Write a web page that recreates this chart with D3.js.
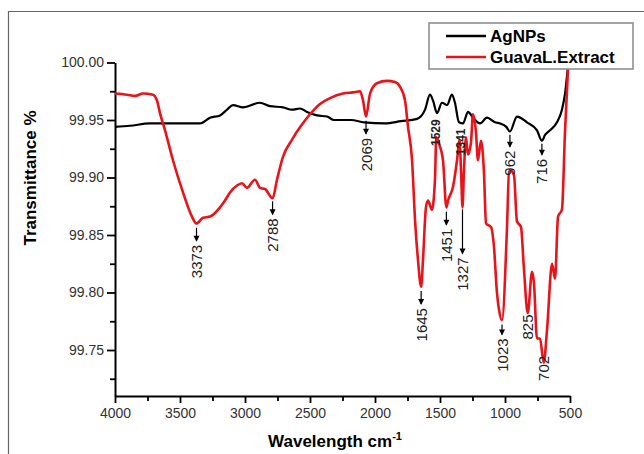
<!DOCTYPE html>
<html>
<head>
<meta charset="utf-8">
<script src="https://cdn.jsdelivr.net/npm/d3@7"></script>
<style>
  body { margin: 0; background: #fff; }
  text { font-family: "Liberation Sans", Arial, sans-serif; }
</style>
</head>
<body>
<div id="chart"></div>
<script>
// AgNPs spectrum (wavenumber, transmittance)
const agWn = [4000, 3885, 3731, 3538, 3346, 3269, 3192, 3138, 3092, 3015, 2885, 2808, 2708, 2638, 2577, 2523, 2446, 2369, 2315, 2185, 2085, 1923, 1800, 1677, 1615, 1577, 1554, 1523, 1485, 1446, 1408, 1385, 1354, 1323, 1285, 1246, 1192, 1138, 1077, 1038, 990, 962, 908, 831, 754, 716, 692, 654, 600, 562, 538, 515, 500];
const agT  = [99.944, 99.945, 99.947, 99.947, 99.947, 99.952, 99.954, 99.959, 99.963, 99.961, 99.965, 99.962, 99.961, 99.959, 99.960, 99.957, 99.954, 99.953, 99.950, 99.950, 99.948, 99.947, 99.949, 99.951, 99.959, 99.972, 99.967, 99.956, 99.965, 99.963, 99.972, 99.965, 99.948, 99.947, 99.957, 99.952, 99.947, 99.952, 99.948, 99.947, 99.944, 99.940, 99.953, 99.948, 99.941, 99.932, 99.937, 99.941, 99.948, 99.959, 99.973, 99.996, 100.004];

// Guava leaf extract spectrum
const guWn = [4000, 3908, 3846, 3785, 3708, 3677, 3654, 3615, 3554, 3477, 3408, 3373, 3323, 3269, 3192, 3154, 3115, 3062, 3023, 2985, 2923, 2885, 2846, 2788, 2754, 2708, 2638, 2562, 2500, 2423, 2346, 2246, 2169, 2115, 2092, 2069, 2038, 1985, 1908, 1846, 1808, 1769, 1746, 1715, 1692, 1669, 1645, 1631, 1608, 1592, 1562, 1538, 1529, 1510, 1477, 1451, 1438, 1400, 1369, 1350, 1338, 1327, 1316, 1300, 1285, 1262, 1246, 1223, 1208, 1185, 1162, 1146, 1108, 1085, 1062, 1046, 1023, 985, 969, 954, 931, 908, 877, 854, 825, 792, 777, 754, 731, 702, 677, 638, 615, 592, 562, 538, 515, 500];
const guT  = [99.973, 99.972, 99.971, 99.973, 99.972, 99.967, 99.956, 99.941, 99.915, 99.887, 99.866, 99.860, 99.865, 99.866, 99.874, 99.880, 99.887, 99.893, 99.895, 99.891, 99.898, 99.891, 99.890, 99.882, 99.898, 99.918, 99.933, 99.946, 99.955, 99.964, 99.969, 99.973, 99.974, 99.975, 99.967, 99.953, 99.973, 99.982, 99.984, 99.983, 99.979, 99.967, 99.944, 99.915, 99.863, 99.828, 99.805, 99.828, 99.874, 99.880, 99.872, 99.900, 99.935, 99.930, 99.915, 99.874, 99.880, 99.892, 99.915, 99.933, 99.905, 99.874, 99.905, 99.935, 99.920, 99.930, 99.955, 99.939, 99.915, 99.932, 99.905, 99.860, 99.857, 99.840, 99.800, 99.785, 99.776, 99.855, 99.905, 99.906, 99.902, 99.862, 99.857, 99.820, 99.782, 99.818, 99.808, 99.760, 99.760, 99.739, 99.767, 99.825, 99.812, 99.866, 99.872, 99.941, 99.995, 100.02];

// peak annotations with arrows (arrow starts at the curve)
const arrowWn  = [3373, 2788, 2069, 1645, 1451, 1327, 1023, 962, 716];
const arrowT   = [99.858, 99.881, 99.951, 99.803, 99.872, 99.874, 99.774, 99.939, 99.931];
const arrowLen = [13, 13, 13, 13, 13, 44, 10, 12, 11];
// plain labels (no arrow), centre of text
const plainWn = [1529, 1341, 825, 702];
const plainT  = [99.939, 99.931, 99.770, 99.734];

const xTicks = [4000, 3500, 3000, 2500, 2000, 1500, 1000, 500];
const xMinor = [3750, 3250, 2750, 2250, 1750, 1250, 750];
const yTicks = [99.75, 99.80, 99.85, 99.90, 99.95, 100.00];
const yMinor = [99.725, 99.775, 99.825, 99.875, 99.925, 99.975];

const seriesNames = ["AgNPs", "GuavaL.Extract"];
const seriesColors = ["#000000", "#e8141b"];

const W = 644, H = 454;
const svg = d3.select("#chart").append("svg")
  .attr("width", W).attr("height", H);

// outer frame
svg.append("path")
  .attr("d", "M8.5,454 L8.5,11.5 L644,11.5")
  .attr("fill", "none").attr("stroke", "#666").attr("stroke-width", 1.2);

const x = d3.scaleLinear().domain([4000, 500]).range([115, 570]);
const y = d3.scaleLinear().domain([99.71, 100.0]).range([396, 62.5]);

// axes
const fmtY = d3.format(".2f");
svg.append("g").attr("transform", "translate(0,396)")
  .call(d3.axisBottom(x).tickValues(xTicks).tickSize(7).tickSizeOuter(0).tickPadding(5).tickFormat(d3.format("d")));
svg.append("g").attr("transform", "translate(0,396)")
  .call(d3.axisBottom(x).tickValues(xMinor).tickSize(5).tickFormat(""))
  .call(g => g.select(".domain").remove());
svg.append("g").attr("transform", "translate(115,0)")
  .call(d3.axisLeft(y).tickValues(yTicks).tickSize(8).tickSizeOuter(0).tickPadding(3).tickFormat(fmtY));
svg.append("g").attr("transform", "translate(115,0)")
  .call(d3.axisLeft(y).tickValues(yMinor).tickSize(5).tickFormat(""))
  .call(g => g.select(".domain").remove());

svg.selectAll(".domain").attr("stroke", "#000").attr("stroke-width", 2);
svg.selectAll(".tick line").attr("stroke", "#000").attr("stroke-width", 1.8);
svg.selectAll(".tick text")
  .attr("font-family", "Liberation Sans, Arial, sans-serif")
  .attr("font-size", 14).attr("fill", "#333");

// axis titles
svg.append("text")
  .attr("x", 335).attr("y", 447)
  .attr("text-anchor", "middle")
  .attr("font-size", 17).attr("font-weight", "bold")
  .text("Wavelength cm")
  .append("tspan").attr("dy", -7).attr("font-size", 11).text("-1");

svg.append("text")
  .attr("transform", "translate(36,178) rotate(-90)")
  .attr("text-anchor", "middle")
  .attr("font-size", 17).attr("font-weight", "bold")
  .text("Transmittance %");

// curves
const line = d3.line().x(d => x(d[0])).y(d => y(d[1])).curve(d3.curveMonotoneX);
const agData = agWn.map((w, i) => [w, agT[i]]);
const guData = guWn.map((w, i) => [w, guT[i]]);
svg.append("path").datum(agData.slice().reverse())
  .attr("d", line).attr("fill", "none")
  .attr("stroke", seriesColors[0]).attr("stroke-width", 2.2).attr("stroke-linejoin", "round");
svg.append("path").datum(guData.slice().reverse())
  .attr("d", line).attr("fill", "none")
  .attr("stroke", seriesColors[1]).attr("stroke-width", 2.6).attr("stroke-linejoin", "round");

// arrow annotations
arrowWn.forEach((w, i) => {
  const px = x(w), py = y(arrowT[i]) + 2, len = arrowLen[i];
  svg.append("line")
    .attr("x1", px).attr("x2", px).attr("y1", py).attr("y2", py + len)
    .attr("stroke", "#000").attr("stroke-width", 1.2);
  svg.append("path")
    .attr("d", `M${px - 3},${py + len - 5} L${px + 3},${py + len - 5} L${px},${py + len + 1} Z`)
    .attr("fill", "#000");
  svg.append("text")
    .attr("transform", `translate(${px},${py + len + 4}) rotate(-90)`)
    .attr("text-anchor", "end")
    .attr("dominant-baseline", "central")
    .attr("font-size", 15).attr("fill", "#222")
    .text(w);
});

plainWn.forEach((w, i) => {
  const small = w > 1300;
  svg.append("text")
    .attr("transform", `translate(${x(w)},${y(plainT[i])}) rotate(-90)`)
    .attr("text-anchor", "middle")
    .attr("dominant-baseline", "central")
    .attr("font-size", small ? 12 : 15)
    .attr("font-weight", small ? "bold" : "normal")
    .attr("fill", "#222")
    .text(w);
});

// legend
const lg = svg.append("g");
lg.append("rect")
  .attr("x", 429).attr("y", 23).attr("width", 204).attr("height", 46)
  .attr("fill", "#fff").attr("stroke", "#888").attr("stroke-width", 1.5);
seriesNames.forEach((n, i) => {
  const ly = 36 + i * 21;
  lg.append("line").attr("x1", 446).attr("x2", 486).attr("y1", ly).attr("y2", ly)
    .attr("stroke", seriesColors[i]).attr("stroke-width", 2.6);
  lg.append("text").attr("x", 490).attr("y", ly + 6)
    .attr("font-size", 17).attr("font-weight", "bold").text(n);
});
</script>
</body>
</html>
